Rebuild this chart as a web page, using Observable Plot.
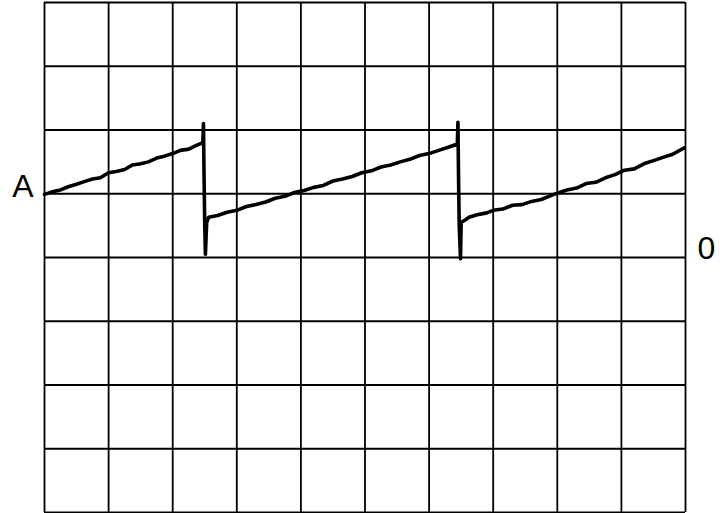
<!DOCTYPE html>
<html>
<head>
<meta charset="utf-8">
<script src="https://cdn.jsdelivr.net/npm/d3@7"></script>
<script src="https://cdn.jsdelivr.net/npm/@observablehq/plot@0.6"></script>
<style>
  html, body { margin: 0; padding: 0; background: #fff; }
  #chart svg { display: block; }
</style>
</head>
<body>
<div id="chart"></div>
<script>
// Grid divisions (oscilloscope screen: 10 x 8 divisions)
const gridX = [0, 1, 2, 3, 4, 5, 6, 7, 8, 9, 10];
const gridY = [-4, -3, -2, -1, 0, 1, 2, 3, 4];

// Trace (sawtooth), in divisions
const traceX = [
  0, 0.12, 0.25, 0.37, 0.5, 0.62, 0.75, 0.87, 1.0, 1.12, 1.25, 1.37, 1.5, 1.62, 1.75, 1.87, 2.0, 2.12, 2.25, 2.37, 2.47,
  2.48, 2.49, 2.50, 2.51, 2.53, 2.56,
  2.7, 2.85, 3.0, 3.15, 3.3, 3.45, 3.6, 3.75, 3.9, 4.05, 4.2, 4.35, 4.5, 4.65, 4.8, 4.95, 5.1, 5.25, 5.4, 5.55, 5.7, 5.85, 6.0, 6.15, 6.3, 6.44,
  6.45, 6.46, 6.47, 6.49, 6.50, 6.58, 6.62,
  6.75, 6.9, 7.0, 7.15, 7.3, 7.45, 7.6, 7.75, 7.9, 8.0, 8.15, 8.3, 8.45, 8.6, 8.75, 8.9, 9.05, 9.2, 9.35, 9.5, 9.65, 9.8, 9.98
];
const traceY = [
  0.99, 1.03, 1.06, 1.11, 1.15, 1.19, 1.23, 1.25, 1.33, 1.35, 1.38, 1.45, 1.47, 1.50, 1.56, 1.59, 1.63, 1.68, 1.70, 1.76, 1.80,
  2.10, 1.20, 0.50, 0.05, 0.55, 0.63,
  0.66, 0.71, 0.74, 0.80, 0.83, 0.87, 0.93, 0.96, 1.02, 1.05, 1.10, 1.13, 1.20, 1.23, 1.27, 1.33, 1.36, 1.42, 1.45, 1.50, 1.54, 1.60, 1.63, 1.68, 1.73, 1.78,
  2.12, 1.20, 0.50, -0.02, 0.55, 0.60, 0.63,
  0.67, 0.70, 0.74, 0.76, 0.82, 0.83, 0.88, 0.91, 0.97, 1.01, 1.06, 1.09, 1.16, 1.18, 1.25, 1.30, 1.37, 1.39, 1.47, 1.52, 1.57, 1.62, 1.72
];

// Side labels
const labelText = ["A", "0"];
const labelX = [0, 10];
const labelY = [1, 0];

const trace = traceX.map((x, i) => ({x, y: traceY[i]}));
const labels = labelText.map((t, i) => ({t, x: labelX[i], y: labelY[i]}));

const chart = Plot.plot({
  width: 725,
  height: 513,
  marginLeft: 44,
  marginRight: 40,
  marginTop: 2,
  marginBottom: 1,
  x: {domain: [0, 10], axis: null},
  y: {domain: [-4, 4], axis: null},
  style: {background: "#fff", fontFamily: "'Liberation Sans', Arial, sans-serif"},
  marks: [
    Plot.ruleX(gridX, {stroke: "#000", strokeWidth: 1.8}),
    Plot.ruleY(gridY, {stroke: "#000", strokeWidth: 1.8}),
    Plot.line(trace, {x: "x", y: "y", stroke: "#000", strokeWidth: 3.6, strokeLinejoin: "round", strokeLinecap: "round", curve: "linear"}),
    Plot.text(labels.filter(d => d.t === "A"), {x: "x", y: "y", text: "t", textAnchor: "end", dx: -11, dy: -7, fontSize: 32, fill: "#000"}),
    Plot.text(labels.filter(d => d.t === "0"), {x: "x", y: "y", text: "t", textAnchor: "start", dx: 12, dy: -9, fontSize: 32, fill: "#000"})
  ]
});
document.getElementById("chart").appendChild(chart);
</script>
</body>
</html>
